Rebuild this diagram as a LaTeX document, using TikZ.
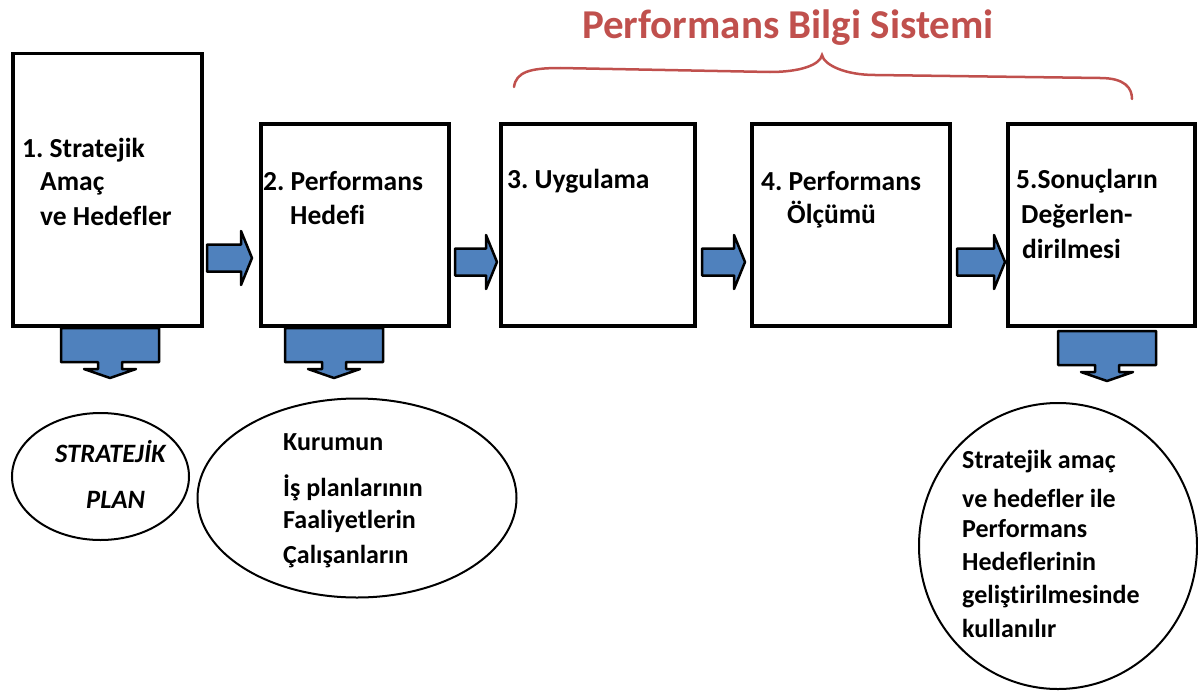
\documentclass[tikz,border=0pt]{standalone}
\usepackage{fontspec}
\setmainfont{Carlito}[Ligatures=NoCommon]
\usepackage{xcolor}
\usetikzlibrary{shapes.geometric}
\definecolor{arrowblue}{HTML}{4F81BD}
\definecolor{bracered}{HTML}{C0504D}
\frenchspacing
\tikzset{
	box/.style={draw, line width=3.5pt, rectangle, inner sep=0pt},
	oval/.style={draw, line width=2pt, ellipse, inner sep=0pt},
	blockarrow/.style={draw=black, fill=arrowblue, line width=2.5pt, line join=round},
	txt/.style={anchor=base west, inner sep=0pt, font=\fontsize{26}{30}\selectfont\bfseries},
	boxtxt/.style={txt, font=\fontsize{27.5}{30}\selectfont\bfseries}
}
% right block arrow: tail x, centre y, length
\newcommand\rblock[3]{
	\draw[blockarrow] (#1, #2-13.5) -- (#1+#3-11, #2-13.5) -- (#1+#3-11, #2-27) -- (#1+#3, #2)
		-- (#1+#3-11, #2+27) -- (#1+#3-11, #2+13.5) -- (#1, #2+13.5) -- cycle;
}
% down block arrow: centre x, top y
\newcommand\dblock[2]{
	\draw[blockarrow] (#1-49, #2) -- (#1+49, #2) -- (#1+49, #2+34) -- (#1+12, #2+34) -- (#1+12, #2+41)
		-- (#1+26, #2+41) -- (#1, #2+50) -- (#1-26, #2+41) -- (#1-12, #2+41) -- (#1-12, #2+34)
		-- (#1-49, #2+34) -- cycle;
}

\begin{document}
\begin{tikzpicture}[x=1pt, y=-1pt]
		\useasboundingbox (0, 0) rectangle (1198, 693);

		% title and brace
		\node[txt, font=\fontsize{41}{44}\selectfont\bfseries, text=bracered] (title) at (582, 38) {Performans Bilgi Sistemi};
		\draw[bracered, line width=2.5pt, line cap=round]
			(514, 87) .. controls (516, 72) and (530, 68) .. (560, 68) -- (770, 72)
			.. controls (800, 72) and (820, 65) .. (822, 55)
			.. controls (824, 65) and (845, 75) .. (875, 75) -- (1100, 78)
			.. controls (1125, 78) and (1132, 88) .. (1132, 99);

		% block arrows
		\rblock{207}{258}{45}
		\rblock{455}{262}{42}
		\rblock{702}{262}{43}
		\rblock{957}{262}{48}
		\dblock{110}{328}
		\dblock{334}{328}
		\dblock{1107}{331}

		% boxes
		\node[box, minimum width=189pt, minimum height=272.5pt] (b1) at (107.5, 189.75) {};
		\node[box, minimum width=188pt, minimum height=202pt] (b2) at (355, 225) {};
		\node[box, minimum width=194pt, minimum height=202pt] (b3) at (598, 225) {};
		\node[box, minimum width=198pt, minimum height=202pt] (b4) at (851, 225) {};
		\node[box, minimum width=187pt, minimum height=202pt] (b5) at (1101.5, 225) {};

		\node[boxtxt] (t1a) at (22, 157) {1. Stratejik};
		\node[boxtxt] (t1b) at (40, 190) {Amaç};
		\node[boxtxt] (t1c) at (40, 225) {ve Hedefler};
		\node[boxtxt] (t2a) at (263, 190) {2. Performans};
		\node[boxtxt] (t2b) at (290, 224) {Hedefi};
		\node[boxtxt] (t3a) at (507, 188) {3. Uygulama};
		\node[boxtxt] (t4a) at (761, 190) {4. Performans};
		\node[boxtxt] (t4b) at (787, 223) {Ölçümü};
		\node[boxtxt] (t5a) at (1016, 188) {5.Sonuçların};
		\node[boxtxt] (t5b) at (1021, 223) {Değerlen-};
		\node[boxtxt] (t5c) at (1022, 258) {dirilmesi};

		% ovals
		\node[oval, minimum width=177pt, minimum height=127pt] (e1) at (100.5, 476.5) {};
		\node[oval, minimum width=319pt, minimum height=199pt] (e2) at (357, 498) {};
		\node[oval, minimum width=278pt, minimum height=286pt] (e3) at (1058, 546) {};

		\node[txt, font=\fontsize{26.5}{30}\selectfont\bfseries\itshape] (p1) at (55, 462) {STRATEJİK};
		\node[txt, font=\fontsize{26.5}{30}\selectfont\bfseries\itshape] (p2) at (86, 508) {PLAN};

		\node[txt] (k1) at (283, 450) {Kurumun};
		\node[txt] (k2) at (283, 496) {İş planlarının};
		\node[txt] (k3) at (283, 528) {Faaliyetlerin};
		\node[txt] (k4) at (283, 563) {Çalışanların};

		\node[txt] (s1) at (962, 468) {Stratejik amaç};
		\node[txt] (s2) at (962, 507) {ve hedefler ile};
		\node[txt] (s3) at (962, 537) {Performans};
		\node[txt] (s4) at (962, 570) {Hedeflerinin};
		\node[txt] (s5) at (962, 603) {geliştirilmesinde};
		\node[txt] (s6) at (962, 637) {kullanılır};
\end{tikzpicture}
\end{document}
